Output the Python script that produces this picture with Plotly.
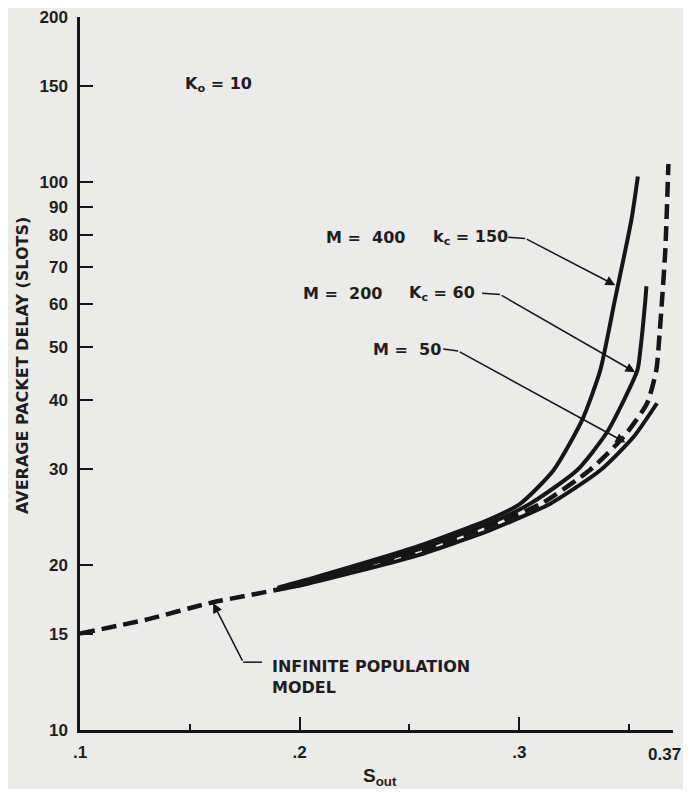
import math
import plotly.graph_objects as go

# ---------------- data ----------------
inf_x = [0.100, 0.130, 0.159, 0.200, 0.253, 0.287, 0.310, 0.332, 0.3475, 0.3582, 0.3624, 0.3639, 0.3650, 0.3665, 0.3679]
inf_y = [15.0, 15.9, 17.05, 18.4, 21.1, 23.6, 25.9, 29.8, 34.3, 39.5, 45.4, 53.0, 60.9, 75.2, 108.0]

m400_x = [0.190, 0.200, 0.253, 0.287, 0.3005, 0.3156, 0.3286, 0.3369, 0.3435, 0.3483, 0.3513, 0.3540]
m400_y = [18.2, 18.65, 21.6, 24.3, 25.9, 29.8, 36.8, 45.4, 60.9, 75.2, 86.5, 102.5]

m200_x = [0.190, 0.200, 0.253, 0.287, 0.3050, 0.3263, 0.3400, 0.3538, 0.3551, 0.3574, 0.3579]
m200_y = [18.15, 18.5, 21.3, 23.9, 25.9, 29.8, 35.0, 45.4, 49.3, 60.9, 64.6]

m50_x = [0.190, 0.200, 0.253, 0.287, 0.3141, 0.3369, 0.3521, 0.3627]
m50_y = [18.05, 18.35, 20.8, 23.2, 25.9, 29.8, 34.3, 39.5]

y_ticks = [10, 15, 20, 30, 40, 50, 60, 70, 80, 90, 100, 150, 200]
x_ticks = [0.1, 0.2, 0.3, 0.37]
x_tick_text = [".1", ".2", ".3", ""]
x_last_label = "0.37"
x_minor = [0.15, 0.25, 0.35]

INK = "#161616"
BG = "#ebebe9"
TICK_FONT = dict(family="Liberation Sans", size=17, color="#1e1e1e", weight="bold")
LABEL_FONT = dict(family="DejaVu Sans", size=16, color="#1e1e1e", weight="bold")

fig = go.Figure()

fig.add_trace(go.Scatter(x=inf_x, y=inf_y, mode="lines",
                         line=dict(color=INK, width=4.5, dash="15px,7px", shape="spline", smoothing=0.6),
                         hoverinfo="skip"))
for xs, ys in [(m400_x, m400_y), (m200_x, m200_y), (m50_x, m50_y)]:
    fig.add_trace(go.Scatter(x=xs, y=ys, mode="lines",
                             line=dict(color=INK, width=4, shape="spline", smoothing=0.6), hoverinfo="skip"))

# leader stubs (short horizontal pieces next to the labels)
stubs = [
    ([0.2950, 0.3027], [79.4, 79.0]),
    ([0.2831, 0.2913], [62.7, 62.4]),
    ([0.2654, 0.2722], [49.6, 49.2]),
    ([0.1829, 0.1743], [13.3, 13.3]),
]
for sx, sy in stubs:
    fig.add_trace(go.Scatter(x=sx, y=sy, mode="lines", line=dict(color=INK, width=1.5), hoverinfo="skip"))

L = math.log10
annotations = []
# arrows: (tip x, tip y, tail x, tail y)
arrows = [
    (0.3437, 64.9, 0.3027, 79.0),
    (0.3528, 45.0, 0.2913, 62.4),
    (0.3483, 33.5, 0.2722, 49.2),
    (0.1606, 17.05, 0.1743, 13.3),
]
for tx, ty, ax, ay in arrows:
    annotations.append(dict(x=tx, y=L(ty), ax=ax, ay=L(ay), xref="x", yref="y", axref="x", ayref="y",
                            text="", showarrow=True, arrowhead=2, arrowsize=1.3, arrowwidth=1.5, arrowcolor=INK))

labels = [
    (0.1629, 151.0, "K<sub>o</sub> = 10"),
    (0.2298, 79.4, "M =  400"),
    (0.2777, 79.4, "k<sub>c</sub> = 150"),
    (0.2194, 62.7, "M =  200"),
    (0.2649, 62.7, "K<sub>c</sub> = 60"),
    (0.2490, 49.6, "M =  50"),
]
for x, y, t in labels:
    annotations.append(dict(x=x, y=L(y), xref="x", yref="y", text=t, showarrow=False,
                            xanchor="center", yanchor="middle", font=LABEL_FONT))

annotations.append(dict(x=0.1866, y=L(12.5), xref="x", yref="y", text="INFINITE POPULATION<br>MODEL",
                        showarrow=False, xanchor="left", yanchor="middle", align="left", font=LABEL_FONT))

annotations.append(dict(x=-0.0978, y=0.5105, xref="paper", yref="paper", text="AVERAGE PACKET DELAY (SLOTS)",
                        textangle=-90, showarrow=False, xanchor="center", yanchor="middle", font=LABEL_FONT))
annotations.append(dict(x=0.2367, y=-0.066, xref="x", yref="paper", text="S<sub>out</sub>",
                        showarrow=False, xanchor="center", yanchor="middle",
                        font=dict(family="Liberation Sans", size=19, color="#1e1e1e", weight="bold")))
# label of the last x tick, right-aligned so it stays inside the page
annotations.append(dict(x=1.0165, y=-0.0345, xref="paper", yref="paper", text=x_last_label,
                        showarrow=False, xanchor="right", yanchor="middle", font=TICK_FONT))

fig.update_layout(
    width=675, height=781,
    margin=dict(l=72, r=10, t=9, b=59),
    paper_bgcolor=BG, plot_bgcolor=BG,
    showlegend=False,
    annotations=annotations,
    xaxis=dict(range=[0.1, 0.37], automargin=False, showgrid=False, zeroline=False, showline=True,
               linecolor=INK, linewidth=2.5,
               ticks="inside", ticklen=13, tickwidth=2, tickcolor=INK,
               tickmode="array", tickvals=x_ticks, ticktext=x_tick_text,
               minor=dict(tickmode="array", tickvals=x_minor, ticks="inside", ticklen=6, tickwidth=2, tickcolor=INK),
               tickfont=TICK_FONT, ticklabelstandoff=5),
    yaxis=dict(type="log", range=[1, math.log10(200.4)], automargin=False, showgrid=False, zeroline=False,
               showline=True, linecolor=INK,
               linewidth=2.5, ticks="inside", ticklen=13, tickwidth=2, tickcolor=INK,
               tickmode="array", tickvals=y_ticks, ticktext=[str(v) for v in y_ticks],
               tickfont=TICK_FONT, ticklabelstandoff=6),
)

fig.write_html("out.html")
